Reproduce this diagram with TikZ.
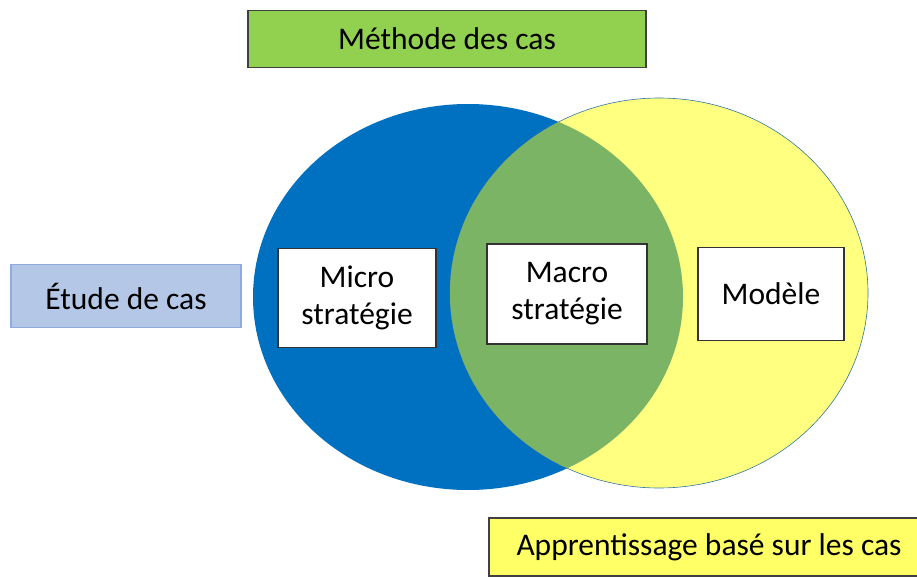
\documentclass[tikz,border=0pt]{standalone}
\usepackage{fontspec}
\setmainfont{Carlito}
\definecolor{boxgreen}{RGB}{146,208,80}
\definecolor{cblue}{RGB}{0,112,192}
\definecolor{cyellow}{RGB}{255,255,128}
\definecolor{lens}{RGB}{122,180,100}
\definecolor{boxyellow}{RGB}{255,255,102}
\definecolor{lightblue}{RGB}{180,199,231}
\definecolor{lbborder}{RGB}{143,170,220}
\begin{document}
\begin{tikzpicture}[x=1pt,y=-1pt,
  label box/.style={draw=black!75, line width=1.2pt, inner sep=0pt, font=\fontsize{31.5}{36}\selectfont},
  inner box/.style={draw=black!80, fill=white, line width=1.2pt, inner sep=0pt, align=center, font=\fontsize{31.5}{37}\selectfont}]
\useasboundingbox (0,0) rectangle (917,577);
% ellipses
\fill[cblue] (468,297) ellipse [x radius=215, y radius=193];
\draw[fill=cyellow, draw=cblue!60!gray, line width=0.6pt] (659,293) ellipse [x radius=209, y radius=195];
\begin{scope}
  \clip (468,297) ellipse [x radius=215, y radius=193];
  \fill[lens] (659,293) ellipse [x radius=209, y radius=195];
\end{scope}
% boxes
\node[label box, fill=boxgreen, minimum width=398pt, minimum height=57pt] (methode) at (447,39) {Méthode des cas};
\node[label box, fill=lightblue, draw=lbborder, minimum width=230pt, minimum height=63pt] (etude) at (126,296) {Étude de cas};
\node[label box, fill=boxyellow, minimum width=440pt, minimum height=58pt] (appr) at (709,547) {Apprentissage basé sur les cas};
\node[inner box, minimum width=158pt, minimum height=99pt] (micro) at (357,298) {Micro\\stratégie};
\node[inner box, minimum width=160pt, minimum height=100pt] (macro) at (567,294) {Macro\\stratégie};
\node[inner box, minimum width=146pt, minimum height=93pt] (modele) at (771,294) {Modèle};
\end{tikzpicture}
\end{document}
